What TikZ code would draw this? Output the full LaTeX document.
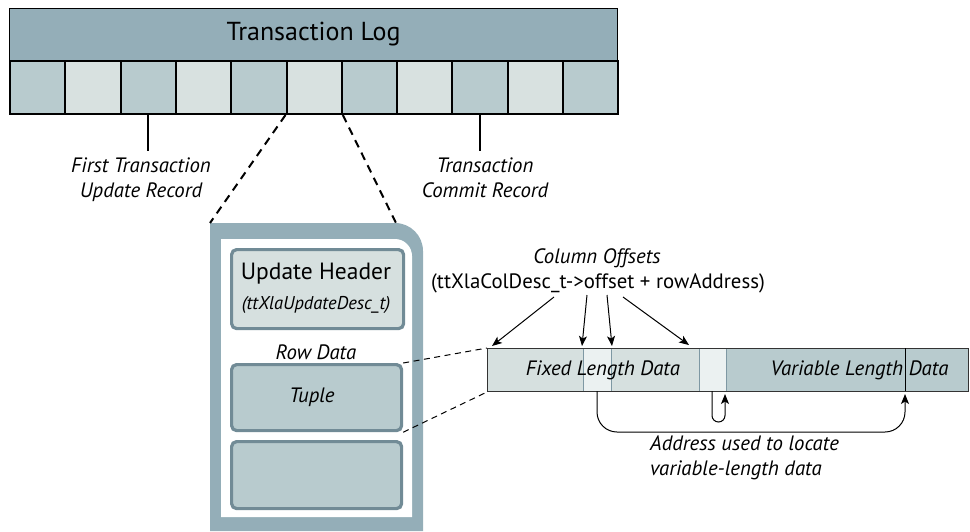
\documentclass[tikz,border=0pt]{standalone}
\usepackage{fontspec}
\setmainfont{PT Sans}
\usetikzlibrary{arrows.meta}

\definecolor{logblue}{HTML}{94AEB8}
\definecolor{celldark}{HTML}{B8CBCE}
\definecolor{celllight}{HTML}{D8E1E0}
\definecolor{boxedge}{HTML}{718B96}
\definecolor{hdrfill}{HTML}{D6E0DF}
\definecolor{fixfill}{HTML}{D6E0DF}
\definecolor{varfill}{HTML}{B8CBCE}
\definecolor{ptrfill}{HTML}{EBF1F1}
\definecolor{ptredge}{HTML}{7E98A3}

\tikzset{
  logcell/.style={draw=black, line width=2pt, minimum width=55.3pt, minimum height=53pt,
    anchor=north west, inner sep=0pt},
  recbox/.style={draw=boxedge, line width=3.2pt, rounded corners=5pt, anchor=north west,
    inner sep=0pt},
  lbl/.style={font=\fontsize{20.8}{24.5}\selectfont\itshape, align=center, inner sep=0pt},
  leader/.style={line width=1.8pt},
  zoomdash/.style={line width=2pt, dash pattern=on 8pt off 6pt},
  rowdash/.style={line width=1pt, dash pattern=on 6pt off 4.5pt},
  ptr/.style={line width=1pt, -{Stealth[length=10pt,width=8pt,inset=2.5pt]}},
  ptrcell/.style={draw=ptredge, fill=ptrfill, line width=1pt, anchor=north west,
    minimum height=43pt, inner sep=0pt},
}

\begin{document}
\begin{tikzpicture}[x=1pt, y=-1pt]
\useasboundingbox (0,0) rectangle (970,531);

% ---- transaction log ----
\node[draw=black, line width=1pt, fill=logblue, anchor=north west, minimum width=608pt,
  minimum height=52pt, inner sep=0pt, font=\fontsize{26}{29}\selectfont] (log) at (9,8) {Transaction Log};
\foreach \i in {1,...,11}{
  \pgfmathtruncatemacro{\odd}{mod(\i,2)}
  \ifnum\odd=1 \def\cf{celldark}\else\def\cf{celllight}\fi
  \node[logcell, fill=\cf] (c\i) at ({9+(\i-1)*55.3},60) {};
}

% ---- leaders to the log records ----
\coordinate (firstend) at (c3.south |- 0,151);
\coordinate (commitend) at (c9.south |- 0,151);
\draw[leader] (c3.south) -- (firstend);
\draw[leader] (c9.south) -- (commitend);
\node[lbl, anchor=north] (firstlbl) at (141,158) {First Transaction\\Update Record};
\node[lbl, anchor=north] (commitlbl) at (485,158) {Transaction\\Commit Record};

% ---- expanded update record ----
\fill[logblue] (210,531) -- (210,223) [rounded corners=28pt] -- (423,223) [sharp corners] -- (423,531) -- cycle;
\fill[white] (221,517) -- (221,239) [rounded corners=17pt] -- (412,239) [sharp corners] -- (412,517) -- cycle;
\coordinate (recTL) at (210,223);
\coordinate (recTR) at (396,223);
\draw[zoomdash] (c6.south west) -- (recTL);
\draw[zoomdash] (c6.south east) -- (recTR);

\node[recbox, fill=hdrfill, minimum width=172pt, minimum height=79pt] (hdr) at (230,248) {};
\node[font=\fontsize{23.5}{27}\selectfont, inner sep=0pt] (hdrtxt) at (316,274) {Update Header};
\node[font=\fontsize{18.5}{21}\selectfont\itshape, inner sep=0pt] (hdrsub) at (316,305) {(ttXlaUpdateDesc\_t)};
\node[lbl] (rowlbl) at (316,352) {Row Data};
\node[recbox, fill=celldark, minimum width=170pt, minimum height=66pt] (tuple) at (230,363) {};
\node[lbl] (tupletxt) at (312,397) {Tuple};
\node[recbox, fill=celldark, minimum width=170pt, minimum height=67pt] (spare) at (230,440) {};

% ---- row layout ----
\fill[fixfill] (487,348) rectangle (726,391);
\fill[varfill] (726,348) rectangle (968,391);
\node[ptrcell, minimum width=28pt] (p1) at (583,348) {};
\node[ptrcell, minimum width=27pt] (p2) at (699,348) {};
\node[draw=black!80, line width=1pt, anchor=north west, minimum width=481pt, minimum height=43pt,
  inner sep=0pt] (row) at (487,348) {};
\draw[line width=0.9pt] (905,348) -- (905,391);
\node[lbl] (fixtxt) at (603,370) {Fixed Length Data};
\node[lbl, anchor=west] (vartxt) at (903,370) {\llap{Variable Length} Data};

\draw[rowdash] (tuple.north east) -- (row.north west);
\draw[rowdash] (tuple.south east) -- (row.south west);

% ---- column offsets ----
\node[lbl] (coltitle) at (597,258) {Column Offsets};
\node[font=\fontsize{20.8}{24}\selectfont, inner sep=0pt] (coldesc) at (598,283) {(ttXlaColDesc\_t->offset + rowAddress)};
\coordinate (t1) at (554,297);
\coordinate (t2) at (587,295);
\coordinate (t3) at (607,295);
\coordinate (t4) at (623,297);
\coordinate (h1) at (492,346);
\coordinate (h2) at (582,346);
\coordinate (h3) at (612,346);
\coordinate (h4) at (689,345);
\draw[ptr] (t1) -- (h1);
\draw[ptr] (t2) -- (h2);
\draw[ptr] (t3) -- (h3);
\draw[ptr] (t4) -- (h4);

% ---- pointers into the variable part ----
\coordinate (loopup) at (725,394);
\draw[ptr, rounded corners=6.5pt] (712,391) -- (712,422) -- (725,422) -- (loopup);
\coordinate (varstart) at (905,394);
\draw[ptr, rounded corners=20pt] (597,391) -- (597,432) -- (905,432) -- (varstart);
\node[lbl, align=left, anchor=north west] (addrtxt) at (650,436) {Address used to locate\\variable-length data};
\end{tikzpicture}
\end{document}
